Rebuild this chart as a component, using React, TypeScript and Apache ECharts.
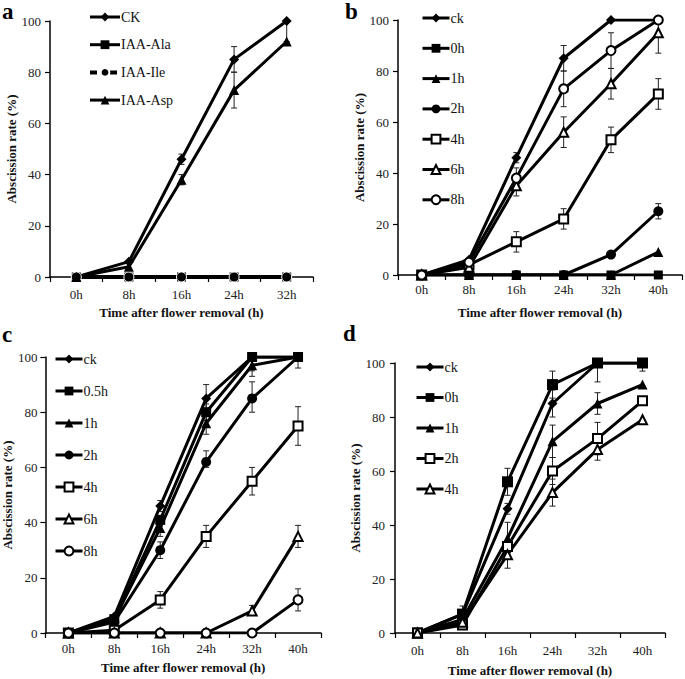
import React, { useEffect, useRef } from "react";
import * as echarts from "echarts";

const FONT = "Liberation Serif";

// Categories
const catsA = ["0h", "8h", "16h", "24h", "32h"];
const catsB = ["0h", "8h", "16h", "24h", "32h", "40h"];
const catsC = ["0h", "8h", "16h", "24h", "32h", "40h"];
const catsD = ["0h", "8h", "16h", "24h", "32h", "40h"];

// Panel a
const aCK = [0, 6, 46, 85, 100];
const aAla = [0, 0, 0, 0, 0];
const aIle = [0, 0, 0, 0, 0];
const aAsp = [0, 4, 38, 73, 92];
const errA = [
  [2, 44, 48], [3, 80, 90], [4, 92, 100],
  [2, 36, 40], [3, 66, 80],
];

// Panel b
const bCK = [0, 6, 46, 85, 100, 100];
const b0h = [0, 0, 0, 0, 0, 0];
const b1h = [0, 0, 0, 0, 0, 9];
const b2h = [0, 0, 0, 0, 8, 25];
const b4h = [0, 4, 13, 22, 53, 71];
const b6h = [0, 3, 35, 56, 75, 95];
const b8h = [0, 5, 38, 73, 88, 100];
const errB = [
  [2, 44, 48], [3, 80, 90],
  [2, 9, 17], [3, 18, 26], [4, 48, 58], [5, 65, 77],
  [2, 31, 38], [3, 50, 62], [4, 69, 81], [5, 87, 100],
  [2, 35, 42], [3, 66, 80], [4, 81, 95],
  [4, 7, 9], [5, 22, 28],
];

// Panel c
const cCK = [0, 6, 46, 85, 100, 100];
const c05h = [0, 5, 41, 80, 100, 100];
const c1h = [0, 5, 38, 76, 97, 100];
const c2h = [0, 4, 30, 62, 85, 100];
const c4h = [0, 1, 12, 35, 55, 75];
const c6h = [0, 0, 0, 0, 8, 35];
const c8h = [0, 0, 0, 0, 0, 12];
const errC = [
  [2, 44, 48], [3, 80, 90], [5, 96, 100],
  [3, 77, 83], [4, 95, 100],
  [2, 35, 41], [3, 72, 80], [4, 93, 99],
  [2, 27, 33], [3, 60, 66], [4, 80, 91],
  [2, 9, 15], [3, 31, 39], [4, 50, 60], [5, 68, 82],
  [4, 7, 10], [5, 31, 39],
  [5, 8, 16],
];

// Panel d
const dCK = [0, 7, 46, 85, 100, 100];
const d0h = [0, 7, 56, 92, 100, 100];
const d1h = [0, 5, 35, 71, 85, 92];
const d2h = [0, 3, 32, 60, 72, 86];
const d4h = [0, 4, 29, 52, 68, 79];
const errD = [
  [2, 44, 48], [3, 80, 90],
  [1, 5, 10], [2, 51, 61], [3, 87, 97], [4, 93, 100], [5, 97, 100],
  [2, 30, 41], [3, 65, 77], [4, 81, 89],
  [3, 55, 65], [4, 66, 78],
  [2, 24, 34], [3, 47, 57], [4, 64, 72],
];

const yTicks = { min: 0, max: 100, interval: 20 };

const panelLetters = [
  { t: "a", x: 2, y: 0 },
  { t: "b", x: 345, y: 0 },
  { t: "c", x: 2, y: 323 },
  { t: "d", x: 343, y: 322 },
];

const grids = [
  { left: 50, top: 21, width: 263, height: 256 },
  { left: 398, top: 20, width: 284, height: 255 },
  { left: 45, top: 357, width: 276, height: 276 },
  { left: 395, top: 363, width: 270, height: 270 },
];

const legendPos = [
  { left: 88, top: 10, itemGap: 13.7, itemWidth: 30 },
  { left: 421, top: 11, itemGap: 16.3, itemWidth: 27 },
  { left: 54, top: 352, itemGap: 18, itemWidth: 27 },
  { left: 415, top: 360, itemGap: 16.5, itemWidth: 27 },
];

const yNameGap = [30, 28, 26, 27];
const yLabelMargin = [9, 9, 8, 10];
const xNameGap = [29, 31, 28, 31];
const xLabelMargin = [11, 8, 9, 11];

function line(
  name: string,
  data: number[],
  idx: number,
  symbol: string,
  size = 9,
  extra: any = {}
) {
  const open = symbol.startsWith("empty");
  return {
    type: "line",
    name,
    data,
    xAxisIndex: idx,
    yAxisIndex: idx,
    symbol,
    symbolSize: size,
    showAllSymbol: true,
    lineStyle: { color: "#000", width: 3, ...(extra.lineStyle || {}) },
    itemStyle: {
      color: "#000",
      borderColor: open ? "#000" : extra.borderColor || "#000",
      borderWidth: open ? 1 : extra.borderWidth || 0,
    },
    emphasis: { disabled: true },
    z: 3,
  };
}

function errSeries(data: number[][], idx: number) {
  return {
    type: "custom",
    xAxisIndex: idx,
    yAxisIndex: idx,
    data,
    silent: true,
    z: 2,
    encode: { x: 0, y: [1, 2] },
    renderItem: (params: any, api: any) => {
      const x = api.value(0);
      const lo = api.coord([x, api.value(1)]);
      const hi = api.coord([x, api.value(2)]);
      const w = 3;
      const st = { stroke: "#222", lineWidth: 1 };
      return {
        type: "group",
        children: [
          { type: "line", shape: { x1: lo[0], y1: lo[1], x2: hi[0], y2: hi[1] }, style: st },
          { type: "line", shape: { x1: lo[0] - w, y1: lo[1], x2: lo[0] + w, y2: lo[1] }, style: st },
          { type: "line", shape: { x1: hi[0] - w, y1: hi[1], x2: hi[0] + w, y2: hi[1] }, style: st },
        ],
      };
    },
  };
}

export default function App() {
  const ref = useRef<HTMLDivElement>(null);
  useEffect(() => {
    if (!ref.current) return;
    const chart = echarts.init(ref.current, null, { renderer: "svg" });
    const cats = [catsA, catsB, catsC, catsD];

    const series: any[] = [
      errSeries(errA, 0),
      errSeries(errB, 1),
      errSeries(errC, 2),
      errSeries(errD, 3),
      // a
      line("a:CK", aCK, 0, "diamond", 10),
      line("a:IAA-Ala", aAla, 0, "rect", 9, { lineStyle: { width: 4 } }),
      line("a:IAA-Ile", aIle, 0, "circle", 10, {
        lineStyle: { type: [5, 3], width: 4 },
        borderColor: "#fff",
        borderWidth: 1,
      }),
      line("a:IAA-Asp", aAsp, 0, "triangle", 10),
      // b
      line("b:ck", bCK, 1, "diamond", 10),
      line("b:0h", b0h, 1, "rect", 9),
      line("b:1h", b1h, 1, "triangle", 10),
      line("b:2h", b2h, 1, "circle", 10),
      line("b:4h", b4h, 1, "emptyRect", 9),
      line("b:6h", b6h, 1, "emptyTriangle", 9),
      line("b:8h", b8h, 1, "emptyCircle", 9),
      // c
      line("c:ck", cCK, 2, "diamond", 10),
      line("c:0.5h", c05h, 2, "rect", 10),
      line("c:1h", c1h, 2, "triangle", 10),
      line("c:2h", c2h, 2, "circle", 10),
      line("c:4h", c4h, 2, "emptyRect", 9),
      line("c:6h", c6h, 2, "emptyTriangle", 9),
      line("c:8h", c8h, 2, "emptyCircle", 9),
      // d
      line("d:ck", dCK, 3, "diamond", 10),
      line("d:0h", d0h, 3, "rect", 11),
      line("d:1h", d1h, 3, "triangle", 10),
      line("d:2h", d2h, 3, "emptyRect", 9),
      line("d:4h", d4h, 3, "emptyTriangle", 9),
    ];

    const legendNames: any[][] = [
      [
        "a:CK",
        "a:IAA-Ala",
        { name: "a:IAA-Ile", lineStyle: { width: 4, type: [7, 3] } },
        "a:IAA-Asp",
      ],
      ["b:ck", "b:0h", "b:1h", "b:2h", "b:4h", "b:6h", "b:8h"],
      ["c:ck", "c:0.5h", "c:1h", "c:2h", "c:4h", "c:6h", "c:8h"],
      ["d:ck", "d:0h", "d:1h", "d:2h", "d:4h"],
    ];

    const option: any = {
      animation: false,
      backgroundColor: "#fff",
      textStyle: { fontFamily: FONT },
      grid: grids.map((g) => ({ ...g, containLabel: false })),
      xAxis: cats.map((c, i) => ({
        type: "category",
        gridIndex: i,
        data: c,
        boundaryGap: true,
        name: "Time after flower removal (h)",
        nameLocation: "middle",
        nameGap: xNameGap[i],
        nameTextStyle: { fontFamily: FONT, fontWeight: "bold", fontSize: 13, color: "#111" },
        axisLine: { lineStyle: { color: "#000", width: 1.5 } },
        axisTick: { show: true, length: 5, lineStyle: { color: "#000", width: 1.2 } },
        axisLabel: { fontFamily: FONT, fontSize: 13, color: "#222", margin: xLabelMargin[i] },
        splitLine: { show: false },
      })),
      yAxis: cats.map((_, i) => ({
        type: "value",
        gridIndex: i,
        ...yTicks,
        name: "Abscission rate (%)",
        nameLocation: "middle",
        nameGap: yNameGap[i],
        nameTextStyle: { fontFamily: FONT, fontWeight: "bold", fontSize: 13, color: "#111" },
        axisLine: { show: true, lineStyle: { color: "#000", width: 1.5 } },
        axisTick: { show: true, length: 5, lineStyle: { color: "#000", width: 1.2 } },
        axisLabel: { fontFamily: FONT, fontSize: 13, color: "#222", margin: yLabelMargin[i] },
        splitLine: { show: false },
      })),
      legend: legendNames.map((names, i) => ({
        data: names,
        orient: "vertical",
        left: legendPos[i].left,
        top: legendPos[i].top,
        itemGap: legendPos[i].itemGap,
        itemWidth: legendPos[i].itemWidth,
        itemHeight: 11,
        padding: 0,
        selectedMode: false,
        lineStyle: { width: 3 },
        formatter: (n: string) => n.slice(n.indexOf(":") + 1),
        textStyle: { fontFamily: FONT, fontSize: 14, color: "#111", lineHeight: 14, padding: [0, 0, 0, -4] },
      })),
      graphic: panelLetters.map((p) => ({
        type: "text",
        x: p.x,
        y: p.y,
        style: {
          text: p.t,
          font: `bold 23px ${FONT}`,
          fill: "#000",
          verticalAlign: "top",
        },
      })),
      series,
    };
    chart.setOption(option);
    return () => chart.dispose();
  }, []);
  return (
    <div
      ref={ref}
      style={{ position: "fixed", left: 0, top: 0, width: 685, height: 679, background: "#fff" }}
    />
  );
}
